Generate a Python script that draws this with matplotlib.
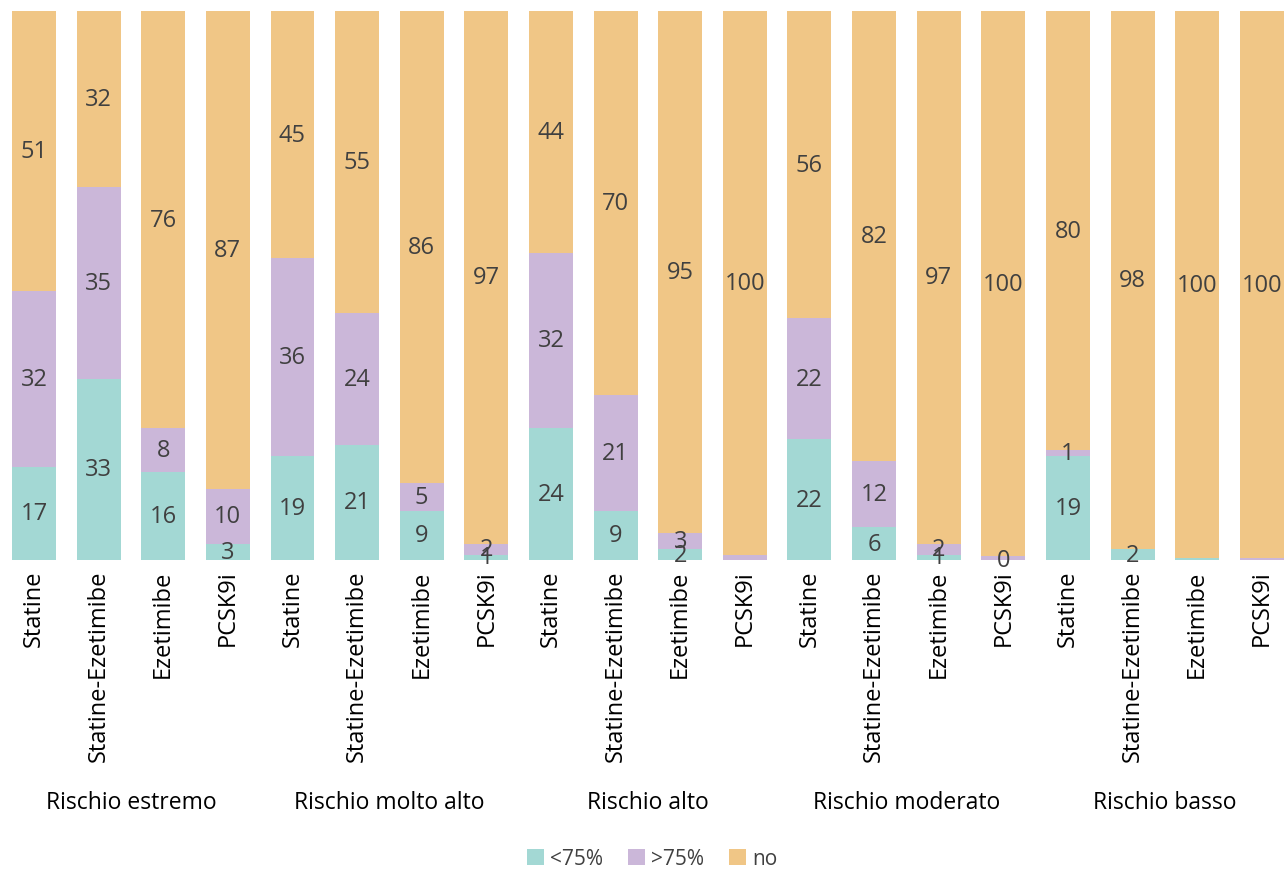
import matplotlib
matplotlib.use("Agg")
import matplotlib.pyplot as plt
from matplotlib.patches import Patch

plt.rcParams['font.family'] = ['Open Sans', 'DejaVu Sans']

groups = ["Rischio estremo", "Rischio molto alto", "Rischio alto",
          "Rischio moderato", "Rischio basso"]
therapies = ["Statine", "Statine-Ezetimibe", "Ezetimibe", "PCSK9i"]

# percentages per bar (groups x therapies, row-major)
lt75 = [17, 33, 16, 3, 19, 21, 9, 1, 24, 9, 2, 0, 22, 6, 1, 0, 19, 2, 0.3, 0]
gt75 = [32, 35, 8, 10, 36, 24, 5, 2, 32, 21, 3, 1, 22, 12, 2, 0.7, 1, 0, 0, 0.3]
no = [51, 32, 76, 87, 45, 55, 86, 97, 44, 70, 95, 100, 56, 82, 97, 100, 80, 98, 100, 100]

# which segment values carry a printed label
show_lt75 = [1, 1, 1, 1, 1, 1, 1, 1, 1, 1, 1, 0, 1, 1, 1, 1, 1, 1, 0, 0]
show_gt75 = [1, 1, 1, 1, 1, 1, 1, 1, 1, 1, 1, 0, 1, 1, 1, 0, 1, 0, 0, 0]
show_no = [1] * 20

series = [("<75%", lt75, show_lt75, "#A3D8D4"),
          (">75%", gt75, show_gt75, "#CBB7D9"),
          ("no", no, show_no, "#F0C686")]

W, H = 1287, 870
fig = plt.figure(figsize=(W / 100, H / 100), dpi=100)
ax = fig.add_axes([0, (870 - 561) / H, 1, (561 - 12) / H])

n = len(groups) * len(therapies)
x = list(range(n))
bottom = [0.0] * n
text_color = "#404040"
for name, vals, show, col in series:
    bars = ax.bar(x, vals, width=0.68, bottom=bottom, color=col,
                  edgecolor="none", label=name)
    labels = ["%g" % v if s else "" for v, s in zip(vals, show)]
    ax.bar_label(bars, labels=labels, label_type="center",
                 fontsize=17, color=text_color)
    bottom = [b + v for b, v in zip(bottom, vals)]

ax.set_xlim(-0.526, 19.39)
ax.set_ylim(0, 100)
ax.set_yticks([])
ax.set_xticks(x)
ax.set_xticklabels(therapies * len(groups), rotation=90, fontsize=17,
                   color="black", va="top")
ax.tick_params(axis="x", length=0, pad=7)
for s in ax.spines.values():
    s.set_visible(False)

# group labels under each block of four bars
for gi, g in enumerate(groups):
    cx = gi * len(therapies) + (len(therapies) - 1) / 2
    ax.text(cx, -(803 - 561) / (561 - 12), g, transform=ax.get_xaxis_transform(),
            ha="center", va="center", fontsize=16.5, color="black")

handles = [Patch(facecolor=c, edgecolor="none", label=nm) for nm, _, _, c in series]
fig.legend(handles=handles, loc="center", bbox_to_anchor=(652 / W, 1 - 860 / H),
           ncol=3, frameon=False, fontsize=15, handlelength=0.8,
           handleheight=0.8, handletextpad=0.3, columnspacing=1.2,
           labelcolor=text_color)

fig.savefig("out.png", dpi=100)
